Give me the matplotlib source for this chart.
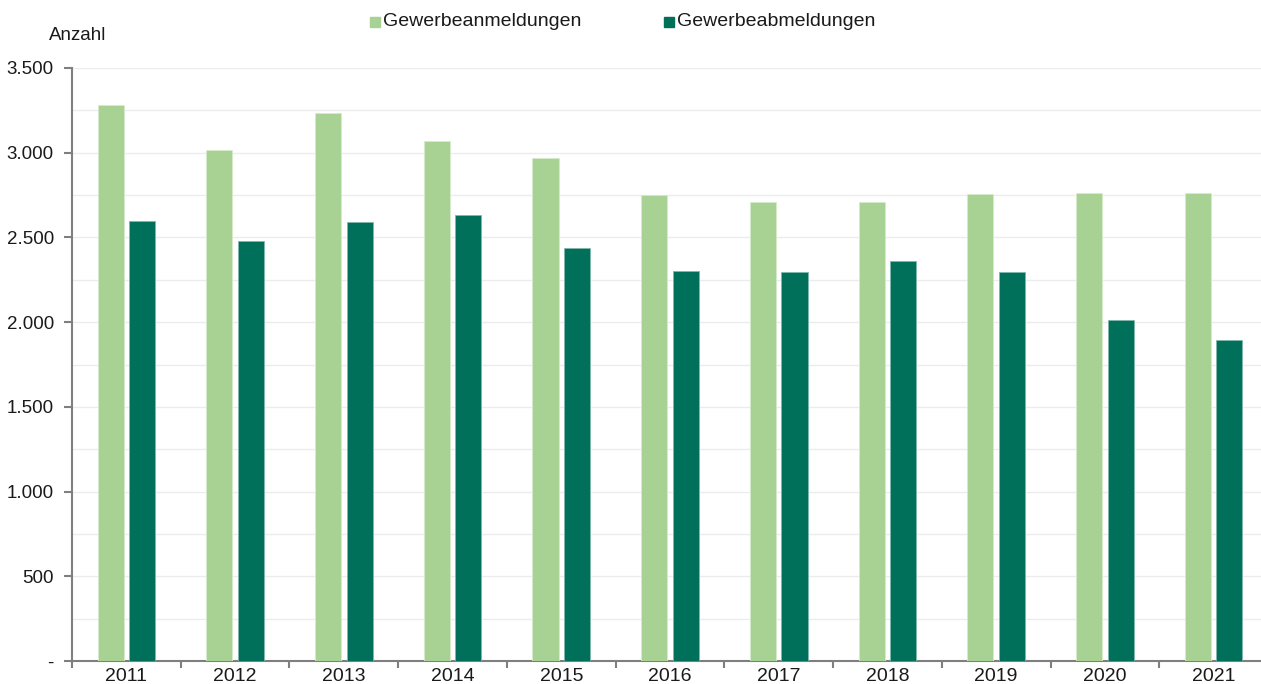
import numpy as np
import matplotlib.pyplot as plt
from matplotlib.ticker import FuncFormatter, MultipleLocator

plt.rcParams['font.family'] = ['Liberation Sans', 'DejaVu Sans']

years = ['2011', '2012', '2013', '2014', '2015', '2016', '2017', '2018', '2019', '2020', '2021']
anmeldungen = [3280, 3015, 3235, 3070, 2970, 2750, 2710, 2710, 2755, 2765, 2760]
abmeldungen = [2595, 2480, 2590, 2630, 2440, 2300, 2295, 2360, 2295, 2010, 1895]

c_light = '#a8d194'
c_dark = '#00705a'
axis_col = '#7f7f7f'
fs = 14

fig = plt.figure(figsize=(12.61, 6.84), dpi=100)
# axis runs slightly past the right edge, as in the reference
ax = fig.add_axes([72/1261, 1 - 661/684, 1196/1261, 593/684])

x = np.arange(len(years))
w = 0.24
ax.bar(x - 0.145, anmeldungen, w, color=c_light, edgecolor='#d6ebcc', linewidth=0.6, zorder=3)
ax.bar(x + 0.145, abmeldungen, w, color=c_dark, edgecolor='#7fb8ac', linewidth=0.6, zorder=3)

ax.set_xlim(-0.5, len(years) - 0.5)
ax.set_ylim(0, 3500)
ax.yaxis.set_major_locator(MultipleLocator(500))
ax.yaxis.set_minor_locator(MultipleLocator(250))
ax.yaxis.set_major_formatter(FuncFormatter(
    lambda v, p: '-' if v == 0 else f'{int(v):,}'.replace(',', '.')))
ax.grid(axis='y', which='both', color='#ececec', linewidth=1.0, zorder=0)
ax.tick_params(axis='y', which='minor', length=0)

ax.set_xticks(x)
ax.set_xticklabels(years)
ax.set_xticks(np.arange(-0.5, len(years), 1), minor=True)
ax.tick_params(axis='x', which='major', length=0, pad=5, labelsize=fs, colors='#1a1a1a')
ax.tick_params(axis='x', which='minor', length=5, width=1.5, color=axis_col)
ax.tick_params(axis='y', which='major', length=6, width=1.5, color=axis_col,
               labelsize=13.5, labelcolor='#1a1a1a', pad=7)

for s in ['top', 'right']:
    ax.spines[s].set_visible(False)
for s in ['left', 'bottom']:
    ax.spines[s].set_color(axis_col)
    ax.spines[s].set_linewidth(1.5)

fig.text(49/1261, 1 - 36/684, 'Anzahl', fontsize=13.5, color='#1a1a1a', va='center')

# legend
for xs, col, lab in [(370, c_light, 'Gewerbeanmeldungen'), (664, c_dark, 'Gewerbeabmeldungen')]:
    fig.patches.append(plt.Rectangle((xs/1261, 1 - 27/684), 10/1261, 10/684,
                                     transform=fig.transFigure, color=col, figure=fig))
    fig.text((xs + 13)/1261, 1 - 22/684, lab, fontsize=fs, color='#1a1a1a', va='center')

fig.savefig('out.png', dpi=100)
